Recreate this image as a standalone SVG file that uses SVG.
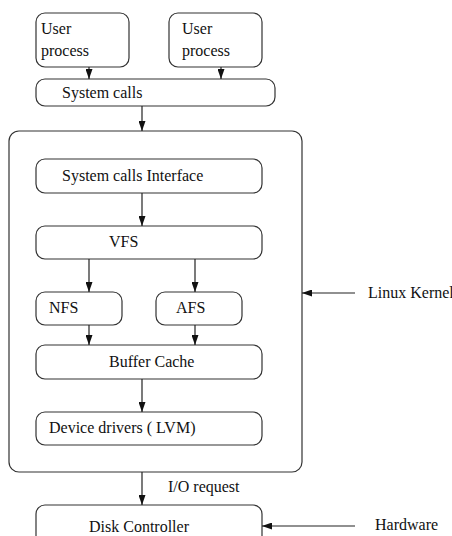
<svg xmlns="http://www.w3.org/2000/svg" width="452" height="536" viewBox="0 0 452 536">
  <style>
    .box { fill: #fff; stroke: #333; stroke-width: 1.2; }
    .lbl { font-family: "Liberation Serif", "Times New Roman", serif; font-size: 16px; fill: #111; }
    .edge { stroke: #222; stroke-width: 1.2; fill: none; marker-end: url(#ah); }
  </style>
  <defs>
    <marker id="ah" viewBox="0 0 10 7" refX="10" refY="3.5" markerWidth="10" markerHeight="7" markerUnits="userSpaceOnUse" orient="auto">
      <path d="M0,0 L10,3.5 L0,7 z" fill="#111"/>
    </marker>
  </defs>
  <rect width="452" height="536" fill="#fff"/>

  <g id="kernel">
    <rect class="box" x="9" y="131" width="293" height="341" rx="10"/>
  </g>
  <g id="user1">
    <rect class="box" x="36" y="13" width="93" height="54" rx="9"/>
    <text class="lbl" x="41" y="34">User</text>
    <text class="lbl" x="41" y="56">process</text>
  </g>
  <g id="user2">
    <rect class="box" x="169" y="13" width="93" height="54" rx="9"/>
    <text class="lbl" x="182" y="34">User</text>
    <text class="lbl" x="182" y="56">process</text>
  </g>
  <g id="syscalls">
    <rect class="box" x="36" y="79" width="239" height="27" rx="9"/>
    <text class="lbl" x="62" y="98">System calls</text>
  </g>
  <g id="sci">
    <rect class="box" x="36" y="159" width="226" height="34" rx="9"/>
    <text class="lbl" x="62" y="181">System calls Interface</text>
  </g>
  <g id="vfs">
    <rect class="box" x="36" y="226" width="226" height="33" rx="9"/>
    <text class="lbl" x="109" y="247">VFS</text>
  </g>
  <g id="nfs">
    <rect class="box" x="36" y="292" width="86" height="33" rx="9"/>
    <text class="lbl" x="49" y="313">NFS</text>
  </g>
  <g id="afs">
    <rect class="box" x="156" y="292" width="86" height="33" rx="9"/>
    <text class="lbl" x="176" y="313">AFS</text>
  </g>
  <g id="buffer">
    <rect class="box" x="36" y="345" width="226" height="34" rx="9"/>
    <text class="lbl" x="109" y="367">Buffer Cache</text>
  </g>
  <g id="drivers">
    <rect class="box" x="36" y="412" width="226" height="33" rx="9"/>
    <text class="lbl" x="49" y="433">Device drivers ( LVM)</text>
  </g>
  <g id="disk">
    <rect class="box" x="36" y="505" width="226" height="40" rx="9"/>
    <text class="lbl" x="89" y="532">Disk Controller</text>
  </g>
  <g id="label-kernel">
    <text class="lbl" x="368" y="298">Linux Kernel</text>
  </g>
  <g id="label-hardware">
    <text class="lbl" x="375" y="530">Hardware</text>
  </g>
  <g id="label-io">
    <text class="lbl" x="168" y="492">I/O request</text>
  </g>

  <g id="connectors">
    <line class="edge" x1="89" y1="67" x2="89" y2="79"/>
    <line class="edge" x1="221" y1="67" x2="221" y2="79"/>
    <line class="edge" x1="142" y1="106" x2="142" y2="131"/>
    <line class="edge" x1="142" y1="193" x2="142" y2="226"/>
    <line class="edge" x1="89" y1="259" x2="89" y2="292"/>
    <line class="edge" x1="195" y1="259" x2="195" y2="292"/>
    <line class="edge" x1="89" y1="325" x2="89" y2="345"/>
    <line class="edge" x1="195" y1="325" x2="195" y2="345"/>
    <line class="edge" x1="142" y1="379" x2="142" y2="412"/>
    <line class="edge" x1="142" y1="472" x2="142" y2="505"/>
    <line class="edge" x1="355" y1="293" x2="302" y2="293"/>
    <line class="edge" x1="355" y1="526" x2="262" y2="526"/>
  </g>
</svg>
